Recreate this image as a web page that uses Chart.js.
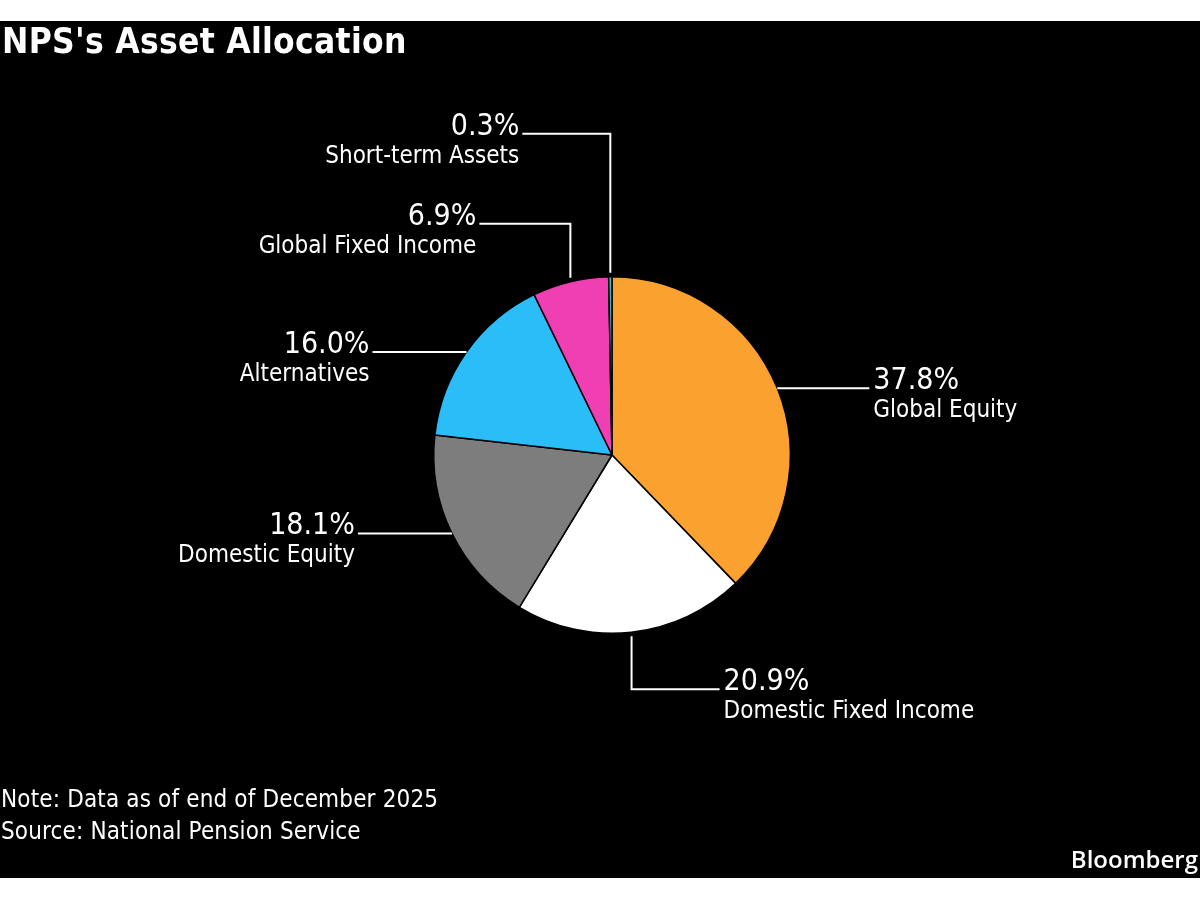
<!DOCTYPE html>
<html>
<head>
<meta charset="utf-8">
<script src="https://cdn.jsdelivr.net/npm/chart.js@4"></script>
<style>
  html, body { margin: 0; padding: 0; background: #fff; }
  body { width: 1200px; height: 900px; position: relative; overflow: hidden; font-family: "DejaVu Sans Condensed", "DejaVu Sans", sans-serif; }
  #panel { position: absolute; left: 0; top: 21px; width: 1200px; height: 857px; background: #000; }
  #title { position: absolute; left: 2px; top: 0px; color: #fff; font-weight: bold; font-size: 35px; letter-spacing: 0.3px; }
  #chartBox { position: absolute; left: 0; top: 0; width: 1200px; height: 857px; }
  .foot { position: absolute; left: 1px; color: #fff; font-size: 24px; letter-spacing: 0.15px; }
  #brand { position: absolute; right: 2px; bottom: 3px; color: #fff; font-size: 24px; font-family: "Open Sans", sans-serif; font-weight: 600; }
</style>
</head>
<body>
<div id="panel">
  <div id="chartBox"><canvas id="allocChart"></canvas></div>
  <div id="title">NPS's Asset Allocation</div>
  <div class="foot" style="top:764px">Note: Data as of end of December 2025</div>
  <div class="foot" style="top:796px">Source: National Pension Service</div>
  <div id="brand">Bloomberg</div>
</div>
<script>
const categories = ['Global Equity', 'Domestic Fixed Income', 'Domestic Equity', 'Alternatives', 'Global Fixed Income', 'Short-term Assets'];
const shares = [37.8, 20.9, 18.1, 16.0, 6.9, 0.3];
const sliceColors = ['#fba12f', '#ffffff', '#7d7d7d', '#2bbdf8', '#f03fb2', '#5fa7b2'];

// leader line layout per slice: vertical run first (v, px, + = down), then horizontal (h, px, + = right)
const leaders = [
    { v: 0, h: 92 },
    { v: 57, h: 88 },
    { v: 0, h: -94 },
    { v: 0, h: -94 },
    { v: -58, h: -91 },
    { v: -143, h: -88 }
];

const calloutPlugin = {
    id: 'callouts',
    afterDatasetsDraw(chart) {
        const ctx = chart.ctx;
        const meta = chart.getDatasetMeta(0);
        ctx.save();
        meta.data.forEach((arc, i) => {
            const mid = (arc.startAngle + arc.endAngle) / 2;
            const x0 = arc.x + Math.cos(mid) * arc.outerRadius;
            const y0 = arc.y + Math.sin(mid) * arc.outerRadius;
            const lay = leaders[i];
            const y1 = y0 + lay.v;
            const x2 = x0 + lay.h;
            ctx.strokeStyle = '#fff';
            ctx.lineWidth = 2;
            ctx.beginPath();
            ctx.moveTo(x0, lay.v !== 0 ? y0 + Math.sign(lay.v) * 4 : y0);
            ctx.lineTo(x0, y1);
            ctx.lineTo(x2, y1);
            ctx.stroke();

            const right = lay.h > 0;
            const tx = right ? x2 + 4 : x2 - 3;
            ctx.fillStyle = '#fff';
            ctx.textAlign = right ? 'left' : 'right';
            ctx.textBaseline = 'alphabetic';
            ctx.font = '30px "DejaVu Sans Condensed", "DejaVu Sans", sans-serif';
            ctx.fillText(shares[i].toFixed(1) + '%', tx, y1 + 1);
            ctx.font = '24px "DejaVu Sans Condensed", "DejaVu Sans", sans-serif';
            ctx.fillText(categories[i], tx, y1 + 29);
        });
        ctx.restore();
    }
};

const ctx = document.getElementById('allocChart').getContext('2d');

const allocChart = new Chart(ctx, {
    type: 'pie',
    data: {
        labels: categories,
        datasets: [{
            data: shares,
            backgroundColor: sliceColors,
            borderColor: '#000',
            borderWidth: 1.5,
            hoverOffset: 0,
            offset: 0
        }]
    },
    options: {
        responsive: true,
        maintainAspectRatio: false,
        animation: false,
        layout: {
            padding: { top: 255, bottom: 244, left: 100, right: 76 }
        },
        plugins: {
            legend: { display: false },
            tooltip: { enabled: false }
        }
    },
    plugins: [calloutPlugin]
});
</script>
</body>
</html>
